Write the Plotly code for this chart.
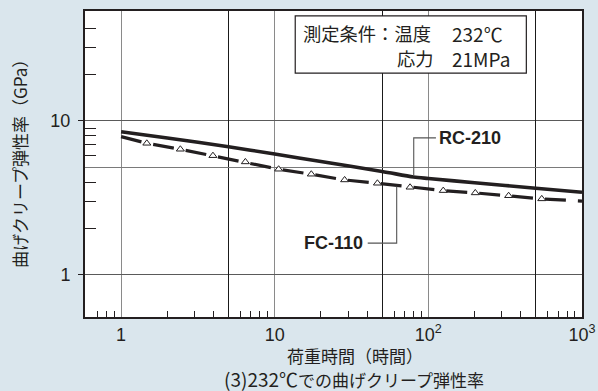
import math
import plotly.graph_objects as go

# ---------------- data ----------------
rc_hours = [1, 2, 5, 10, 20, 50, 80, 100, 200, 500, 1000]
rc_modulus = [8.5, 7.75, 6.8, 6.1, 5.45, 4.7, 4.33, 4.23, 3.97, 3.66, 3.44]

fc_hours = [1, 1.47, 2.43, 3.96, 6.44, 10.6, 17.3, 28.5, 46.6, 76, 125, 202, 333, 547, 1000]
fc_modulus = [7.91, 7.16, 6.55, 5.95, 5.42, 4.86, 4.51, 4.14, 3.94, 3.71, 3.53, 3.41, 3.27, 3.12, 3.02]

fc_marker_hours = [1.47, 2.43, 3.96, 6.44, 10.6, 17.3, 28.5, 46.6, 76, 125, 202, 333, 547]
fc_marker_modulus = [7.16, 6.55, 5.95, 5.42, 4.86, 4.51, 4.14, 3.94, 3.71, 3.53, 3.41, 3.27, 3.12]

x_tick_vals = [1, 10, 100, 1000]
x_tick_text = ["1", "10", "10<sup>2</sup>", "10<sup>3</sup>"]
x_grid_dark = [5, 50, 500]
x_minor = [0.7, 0.8, 0.9, 2, 3, 4, 6, 7, 8, 9, 20, 30, 40, 60, 70, 80, 90,
           200, 300, 400, 600, 700, 800, 900]
y_tick_vals = [1, 10]
y_tick_text = ["1", "10"]
y_grid_extra = [5]
y_minor = [2, 3, 4, 6, 7, 8, 9, 20, 30, 40]

series_names = ["RC-210", "FC-110"]

# leader-line callouts (hours, GPa)
rc_leader_x = [80.3, 80.3, 112]
rc_leader_y = [4.45, 7.76, 7.76]
fc_leader_x = [40.3, 62.2, 62.2]
fc_leader_y = [1.61, 1.61, 3.75]

INK = "#231f20"
BG = "#dae6ed"
JP = "Noto Sans CJK JP"
LAT = "Liberation Sans"

fig = go.Figure()

fig.add_trace(go.Scatter(x=rc_hours, y=rc_modulus, mode="lines",
                         line=dict(color=INK, width=3.6, shape="spline", smoothing=0.8),
                         name=series_names[0], hoverinfo="skip"))
fig.add_trace(go.Scatter(x=fc_hours, y=fc_modulus, mode="lines",
                         line=dict(color=INK, width=3.2, dash="21px,12px"),
                         name=series_names[1], hoverinfo="skip"))
fig.add_trace(go.Scatter(x=fc_marker_hours, y=fc_marker_modulus, mode="markers",
                         marker=dict(symbol="triangle-up", size=7, color="white",
                                     line=dict(color=INK, width=1)),
                         hoverinfo="skip"))
fig.add_trace(go.Scatter(x=rc_leader_x, y=rc_leader_y, mode="lines",
                         line=dict(color="#555555", width=1.1), hoverinfo="skip"))
fig.add_trace(go.Scatter(x=fc_leader_x, y=fc_leader_y, mode="lines",
                         line=dict(color="#555555", width=1.1), hoverinfo="skip"))
# dummy trace to activate overlay axes (extra gridlines)
fig.add_trace(go.Scatter(x=[], y=[], xaxis="x2", yaxis="y2", hoverinfo="skip"))

xr = [-0.235, 3.0]
yr = [-0.273, 1.714]

fig.update_layout(
    width=598, height=391,
    margin=dict(l=85, r=16, t=11, b=74, autoexpand=False),
    paper_bgcolor=BG, plot_bgcolor="white",
    showlegend=False,
    xaxis=dict(type="log", range=xr, tickvals=x_tick_vals, ticktext=x_tick_text,
               ticks="", showgrid=True, gridcolor="#8a8a8a", gridwidth=1.2,
               showline=True, linecolor=INK, linewidth=2, mirror=True,
               tickfont=dict(family=LAT, size=18, color=INK), automargin=False,
               ticklabelstandoff=0, zeroline=False,
               minor=dict(tickvals=x_minor, ticks="inside", ticklen=6,
                          tickwidth=1.2, tickcolor=INK, showgrid=False)),
    yaxis=dict(type="log", range=yr, tickvals=y_tick_vals, ticktext=y_tick_text,
               ticks="outside", ticklen=5, tickwidth=1.2, tickcolor=INK,
               showgrid=True, gridcolor="#5a5a5a", gridwidth=1.1,
               showline=True, linecolor=INK, linewidth=2, mirror=True,
               tickfont=dict(family=LAT, size=18, color=INK), automargin=False,
               ticklabelstandoff=4, zeroline=False,
               minor=dict(tickvals=y_minor, ticks="inside", ticklen=11,
                          tickwidth=1.2, tickcolor=INK, showgrid=False)),
    xaxis2=dict(type="log", range=xr, overlaying="x", anchor="y", tickvals=x_grid_dark,
                showticklabels=False, ticks="", showgrid=True, gridcolor="#1a1a1a",
                gridwidth=1.0, showline=False, zeroline=False, automargin=False),
    yaxis2=dict(type="log", range=yr, overlaying="y", anchor="x", tickvals=y_grid_extra,
                showticklabels=False, ticks="", showgrid=True, gridcolor="#7a7a7a",
                gridwidth=1.1, showline=False, zeroline=False, automargin=False),
)

# condition box
fig.add_shape(type="rect", xref="paper", yref="paper", x0=0.423, x1=0.888,
              y0=0.797, y1=0.984, line=dict(color=INK, width=1.2),
              fillcolor="white", layer="above")

def note(text, x, y, size, xanchor="left", family=JP, **kw):
    fig.add_annotation(text=text, x=x, y=y, xref="paper", yref="paper",
                       xanchor=xanchor, yanchor="middle", showarrow=False,
                       font=dict(family=family, size=size, color=INK), **kw)

note("測定条件：温度", 0.434, 0.928, 18.3)
note("232℃", 0.735, 0.928, 19)
note("応力", 0.624, 0.846, 18.3)
note("21MPa", 0.735, 0.846, 19)

# series labels at the end of the leader lines (annotation x/y in log10 units)
fig.add_annotation(text="<b>RC-210</b>", x=math.log10(113.5), y=math.log10(7.76),
                   xref="x", yref="y", xanchor="left", yanchor="middle",
                   showarrow=False, font=dict(family=LAT, size=18, color=INK))
fig.add_annotation(text="<b>FC-110</b>", x=math.log10(38.5), y=math.log10(1.61),
                   xref="x", yref="y", xanchor="right", yanchor="middle",
                   showarrow=False, font=dict(family=LAT, size=18, color=INK))

# axis titles and caption
note("荷重時間（時間）", 0.543, -0.125, 17, xanchor="center")
note('<span style="font-size:19px">(3)232℃</span>での曲げクリープ弾性率',
     0.541, -0.2, 17, xanchor="center")
note("曲げクリープ弾性率（GPa）", -0.133, 0.516, 17, xanchor="center", textangle=-90)

fig.write_html("out.html")
